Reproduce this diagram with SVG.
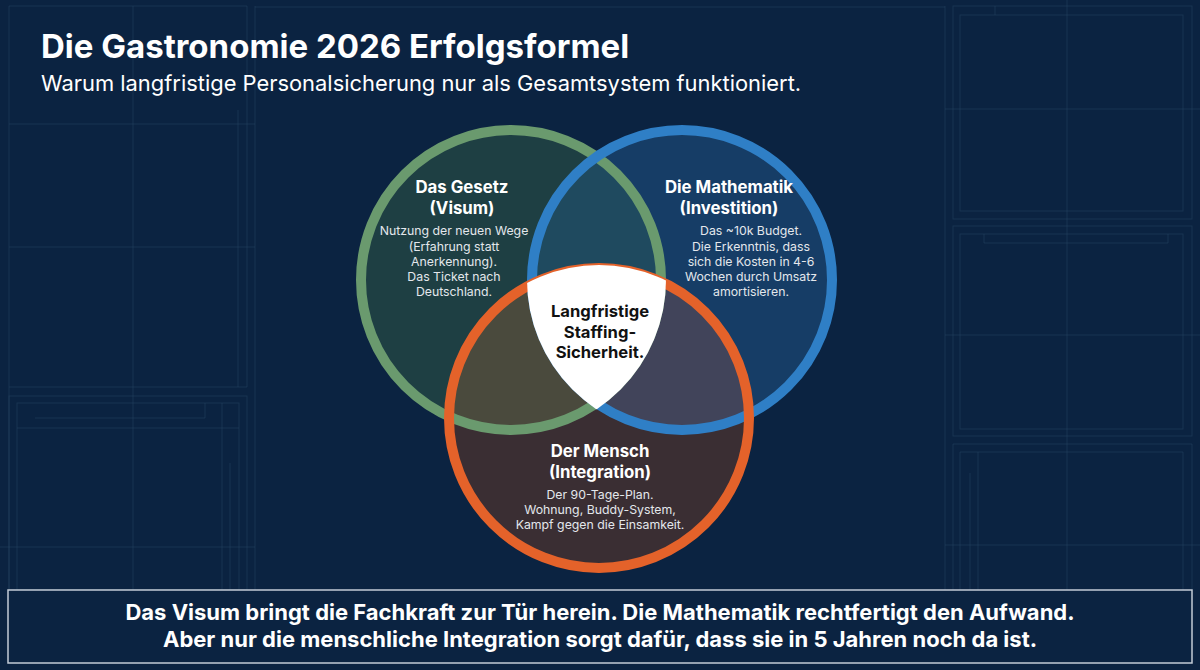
<svg xmlns="http://www.w3.org/2000/svg" width="1200" height="670" viewBox="0 0 1200 670">
<defs>
<style>
.grid line,.grid rect{stroke:#2a4767;stroke-width:1;fill:none;opacity:0.45}
.ttl{font-family:Inter,"Noto Sans","Liberation Sans",sans-serif;fill:#ffffff}
.h{font-family:Inter,"Noto Sans","Liberation Sans",sans-serif;font-weight:700;font-size:16.8px;fill:#ffffff;text-anchor:middle}
.b{font-family:Inter,"Noto Sans","Liberation Sans",sans-serif;font-size:12.3px;fill:#e3e7ec;text-anchor:middle}
.c{font-family:Inter,"Noto Sans","Liberation Sans",sans-serif;font-weight:700;font-size:16.6px;fill:#111111;text-anchor:middle}
.foot{font-family:Inter,"Noto Sans","Liberation Sans",sans-serif;font-weight:700;font-size:22px;fill:#ffffff;text-anchor:middle}
</style>
<clipPath id="cG"><circle cx="511" cy="280" r="150"/></clipPath>
<clipPath id="cB"><circle cx="682" cy="280" r="150"/></clipPath>
<clipPath id="cGo"><circle cx="511" cy="280" r="155"/></clipPath>
<clipPath id="cBo"><circle cx="682" cy="280" r="155"/></clipPath>
</defs>
<rect x="0" y="0" width="1200" height="670" fill="#0b2341"/>
<g class="grid">
<line x1="9" y1="6" x2="247" y2="6"/>
<line x1="255" y1="7" x2="945" y2="7"/>
<line x1="9" y1="6" x2="9" y2="590"/>
<line x1="133" y1="6" x2="133" y2="590"/>
<line x1="247" y1="6" x2="247" y2="387"/>
<line x1="238" y1="110" x2="238" y2="387"/>
<line x1="255" y1="6" x2="255" y2="590"/>
<line x1="9" y1="124" x2="255" y2="124"/>
<line x1="9" y1="247" x2="255" y2="247"/>
<line x1="9" y1="387" x2="247" y2="387"/>
<rect x="9" y="396" width="238" height="194"/>
<rect x="17" y="403" width="222" height="187"/>
<line x1="35" y1="418" x2="205" y2="418"/>
<line x1="205" y1="403" x2="205" y2="418"/>
<line x1="17" y1="428" x2="239" y2="428"/>
<line x1="222" y1="403" x2="222" y2="590"/>
<line x1="230" y1="463" x2="230" y2="590"/>
<line x1="0" y1="547" x2="255" y2="547"/>
<line x1="945" y1="6" x2="945" y2="590"/>
<line x1="1067" y1="0" x2="1067" y2="590"/>
<line x1="945" y1="109" x2="1200" y2="109"/>
<line x1="945" y1="335" x2="1200" y2="335"/>
<line x1="945" y1="545" x2="1200" y2="545"/>
<rect x="953" y="6" width="239" height="213"/>
<rect x="960" y="15" width="223" height="196"/>
<line x1="995" y1="6" x2="995" y2="15"/>
<rect x="953" y="226" width="239" height="210"/>
<rect x="960" y="234" width="223" height="195"/>
<line x1="984" y1="243" x2="1168" y2="243"/>
<line x1="984" y1="234" x2="984" y2="243"/>
<line x1="1168" y1="234" x2="1168" y2="243"/>
<line x1="953" y1="444" x2="1192" y2="444"/>
<line x1="953" y1="444" x2="953" y2="590"/>
<line x1="1192" y1="444" x2="1192" y2="590"/>
<line x1="960" y1="452" x2="1183" y2="452"/>
<line x1="960" y1="452" x2="960" y2="590"/>
<line x1="1183" y1="452" x2="1183" y2="590"/>
<line x1="970" y1="473" x2="970" y2="590"/>
<line x1="978" y1="452" x2="978" y2="590"/>
</g>
<g id="title">
<text class="ttl" x="41" y="58" font-size="33" font-weight="700">Die Gastronomie 2026 Erfolgsformel</text>
<text class="ttl" x="41" y="91" font-size="21.9">Warum langfristige Personalsicherung nur als Gesamtsystem funktioniert.</text>
</g>
<g id="fills">
<circle cx="511" cy="280" r="150" fill="#1e3f43"/>
<circle cx="682" cy="280" r="150" fill="#163d66"/>
<circle cx="599" cy="418" r="150" fill="#3a2e33"/>
<circle cx="682" cy="280" r="150" fill="#1f4a5f" clip-path="url(#cG)"/>
<circle cx="599" cy="418" r="150" fill="#4a4a3d" clip-path="url(#cG)"/>
<circle cx="599" cy="418" r="150" fill="#41445a" clip-path="url(#cB)"/>
</g>
<g id="connectors">
<circle cx="511" cy="280" r="150" fill="none" stroke="#6a9a6e" stroke-width="10"/>
<circle cx="682" cy="280" r="150" fill="none" stroke="#2f7fc6" stroke-width="10"/>
<circle cx="599" cy="418" r="150" fill="none" stroke="#e4622a" stroke-width="10"/>
</g>
<g id="center">
<g clip-path="url(#cGo)"><circle cx="599" cy="418" r="153" fill="#ffffff" clip-path="url(#cBo)"/></g>
<text class="c" x="600" y="317">Langfristige</text>
<text class="c" x="600" y="338">Staffing-</text>
<text class="c" x="600" y="358">Sicherheit.</text>
</g>
<g id="gesetz">
<text class="h" x="462" y="193">Das Gesetz</text>
<text class="h" x="462" y="214">(Visum)</text>
<text class="b" x="454" y="235">Nutzung der neuen Wege</text>
<text class="b" x="454" y="251">(Erfahrung statt</text>
<text class="b" x="454" y="266">Anerkennung).</text>
<text class="b" x="454" y="281">Das Ticket nach</text>
<text class="b" x="454" y="296">Deutschland.</text>
</g>
<g id="mathematik">
<text class="h" x="729" y="193">Die Mathematik</text>
<text class="h" x="729" y="214">(Investition)</text>
<text class="b" x="751" y="235">Das ~10k Budget.</text>
<text class="b" x="751" y="251">Die Erkenntnis, dass</text>
<text class="b" x="751" y="266">sich die Kosten in 4-6</text>
<text class="b" x="751" y="281">Wochen durch Umsatz</text>
<text class="b" x="751" y="296">amortisieren.</text>
</g>
<g id="mensch">
<text class="h" x="600" y="457">Der Mensch</text>
<text class="h" x="600" y="478">(Integration)</text>
<text class="b" x="600" y="499">Der 90-Tage-Plan.</text>
<text class="b" x="600" y="514">Wohnung, Buddy-System,</text>
<text class="b" x="600" y="529">Kampf gegen die Einsamkeit.</text>
</g>
<g id="footer">
<rect x="8" y="590" width="1184" height="73" fill="#0b2341" stroke="#c3ccd6" stroke-width="1.5"/>
<text class="foot" x="600" y="620">Das Visum bringt die Fachkraft zur Tür herein. Die Mathematik rechtfertigt den Aufwand.</text>
<text class="foot" x="600" y="647">Aber nur die menschliche Integration sorgt dafür, dass sie in 5 Jahren noch da ist.</text>
</g>
</svg>
